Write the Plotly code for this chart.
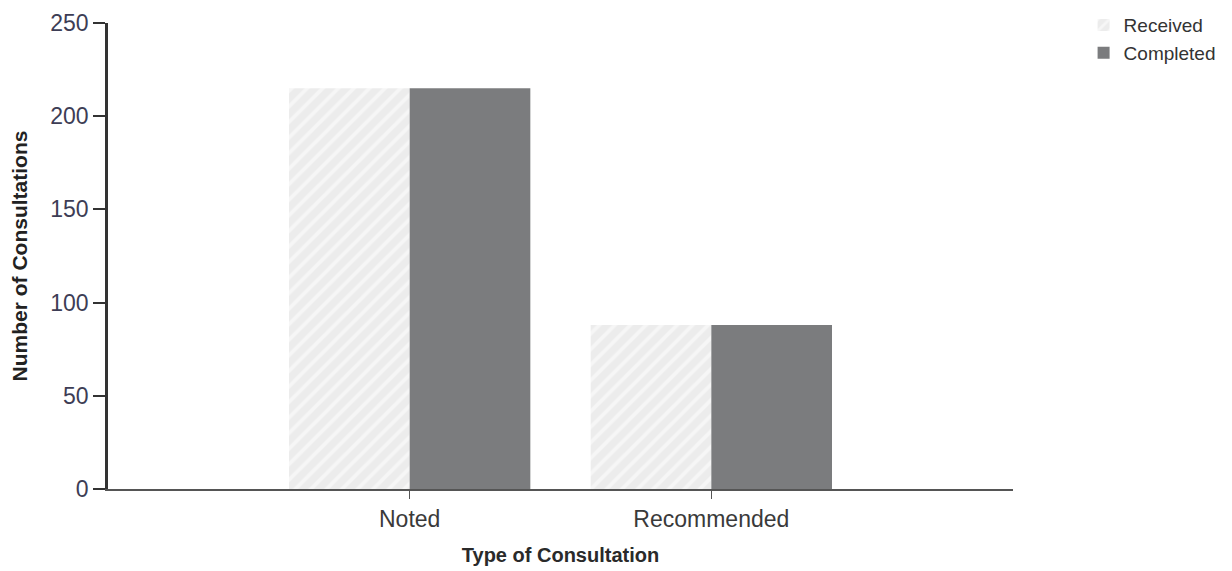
import plotly.graph_objects as go

categories = ["Noted", "Recommended"]
received = [215, 88]
completed = [215, 88]
y_ticks = [0, 50, 100, 150, 200, 250]

regular = "Liberation Sans, Arial, sans-serif"

fig = go.Figure()
fig.add_trace(go.Bar(
    name="Received", x=categories, y=received,
    marker=dict(color="#ededed", line=dict(width=0),
                pattern=dict(shape="/", bgcolor="#ececec", fgcolor="#ffffff",
                             size=11, solidity=0.35)),
))
fig.add_trace(go.Bar(
    name="Completed", x=categories, y=completed,
    marker=dict(color="#7b7c7e", line=dict(width=0)),
))

fig.update_layout(
    width=1224, height=563,
    margin=dict(l=100, r=219, t=15, b=82, autoexpand=False),
    paper_bgcolor="white", plot_bgcolor="white",
    barmode="group", bargap=0.2, bargroupgap=0,
    showlegend=True,
    legend=dict(x=1.078, y=1.036, xanchor="left", yanchor="top",
                font=dict(family=regular, size=19, color="#333333"),
                traceorder="normal", bgcolor="rgba(0,0,0,0)"),
    xaxis=dict(
        range=[-1, 2], showgrid=False, zeroline=False, automargin=False,
        showline=True, linecolor="#555555", linewidth=2,
        ticks="outside", ticklen=8, tickcolor="#555555", tickwidth=1,
        tickfont=dict(family=regular, size=23, color="#3a3a3a"),
        title=dict(text="<b>Type of Consultation</b>",
                   font=dict(family=regular, size=20, color="#2a2a2a"),
                   standoff=17),
    ),
    yaxis=dict(
        range=[0, 250], tickvals=y_ticks, showgrid=False, zeroline=False,
        automargin=False,
        showline=True, linecolor="#333333", linewidth=2.5,
        ticks="outside", ticklen=12, tickcolor="#333333", tickwidth=2,
        tickfont=dict(family=regular, size=23, color="#3d3d55"),
        title=dict(text="<b>Number of Consultations</b>",
                   font=dict(family=regular, size=21, color="#222222"),
                   standoff=22),
    ),
)

fig.write_html("out.html")
